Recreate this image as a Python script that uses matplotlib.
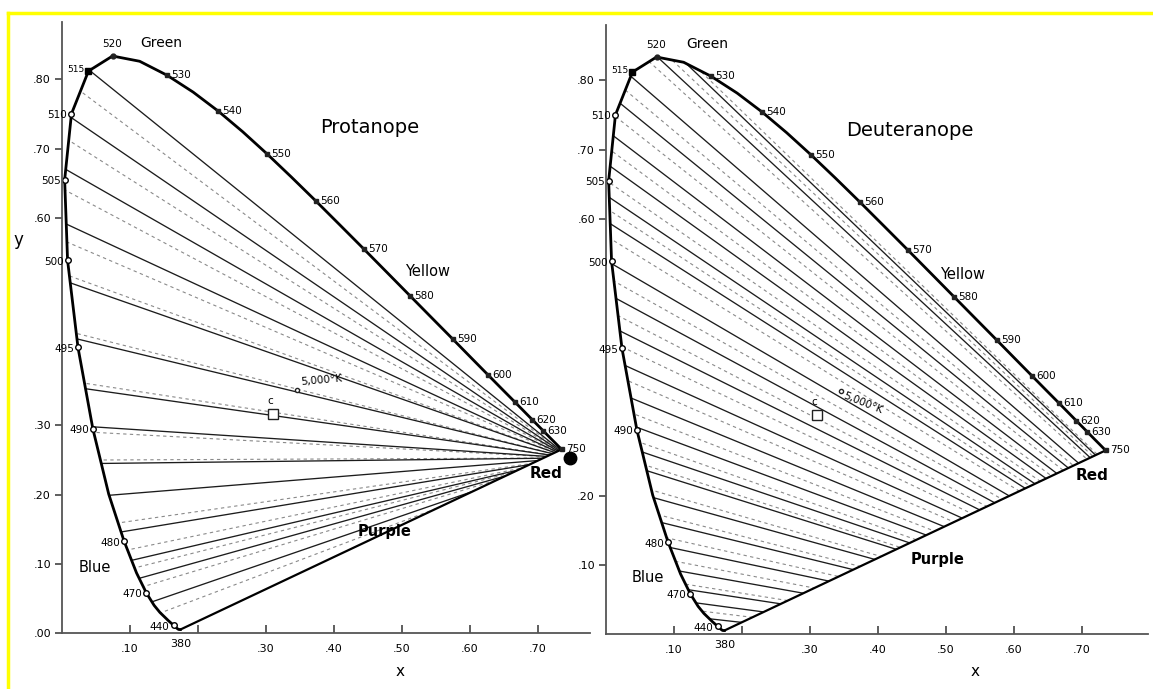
import numpy as np
import matplotlib.pyplot as plt
from matplotlib.patches import Polygon
from matplotlib.lines import Line2D

# CIE 1931 spectral locus (wavelength nm, x, y)
locus_nm = [380, 420, 430, 440, 450, 460, 465, 470, 475, 480, 485, 490, 495, 500, 505,
            510, 515, 520, 525, 530, 535, 540, 545, 550, 555, 560, 565, 570, 575, 580,
            585, 590, 595, 600, 605, 610, 620, 630, 640, 650, 700]
locus_x = [0.1741, 0.1714, 0.1689, 0.1644, 0.1566, 0.1440, 0.1355, 0.1241, 0.1096, 0.0913,
           0.0687, 0.0454, 0.0235, 0.0082, 0.0039, 0.0139, 0.0389, 0.0743, 0.1142, 0.1547,
           0.1929, 0.2296, 0.2658, 0.3016, 0.3373, 0.3731, 0.4087, 0.4441, 0.4788, 0.5125,
           0.5448, 0.5752, 0.6029, 0.6270, 0.6482, 0.6658, 0.6915, 0.7079, 0.7190, 0.7260,
           0.7347]
locus_y = [0.0050, 0.0051, 0.0069, 0.0109, 0.0177, 0.0297, 0.0399, 0.0578, 0.0868, 0.1327,
           0.2007, 0.2950, 0.4127, 0.5384, 0.6548, 0.7502, 0.8120, 0.8338, 0.8262, 0.8059,
           0.7816, 0.7543, 0.7243, 0.6923, 0.6589, 0.6245, 0.5896, 0.5547, 0.5202, 0.4866,
           0.4544, 0.4242, 0.3965, 0.3725, 0.3514, 0.3340, 0.3083, 0.2920, 0.2809, 0.2740,
           0.2653]

# labelled wavelengths on the locus
left_marks = [510, 505, 500, 495, 490, 480, 470, 440]
right_marks = [530, 540, 550, 560, 570, 580, 590, 600, 610, 620, 630]

# copunctal points
prot_point = (0.747, 0.253)
deut_point = (1.08, -0.08)

# protanope confusion lines: y where each line meets the blue/green side of the locus
prot_solid_y = [0.813, 0.745, 0.670, 0.591, 0.506, 0.425, 0.353, 0.298, 0.245, 0.199,
                0.146, 0.105, 0.079, 0.045]
prot_dash_y = [0.783, 0.712, 0.640, 0.565, 0.516, 0.433, 0.361, 0.290, 0.250, 0.159,
               0.120, 0.094, 0.067, 0.029]

# deuteranope confusion lines
deut_solid_y = [0.806, 0.767, 0.720, 0.676, 0.631, 0.593, 0.535, 0.485, 0.438, 0.388,
                0.341, 0.299, 0.263, 0.236, 0.197, 0.161, 0.125, 0.091, 0.064, 0.045, 0.022]
deut_dash_y = [0.786, 0.748, 0.698, 0.653, 0.612, 0.571, 0.510, 0.460, 0.415, 0.366,
               0.318, 0.277, 0.244, 0.208, 0.172, 0.139, 0.105, 0.072, 0.033]
# deuteranope lines starting on the top (green) part of the locus: x of start
deut_solid_top_x = [0.076, 0.118]
deut_dash_top_x = [0.056, 0.097, 0.138]

illum_c = (0.3101, 0.3162)
k5000 = (0.3451, 0.3516)

plt.rcParams['font.family'] = 'DejaVu Sans'

fig = plt.figure(figsize=(11.53, 6.89), dpi=100)

lx = np.array(locus_x)
ly = np.array(locus_y)
i520 = locus_nm.index(520)
blue_x, blue_y = lx[:i520 + 1], ly[:i520 + 1]
top_x, top_y = lx[i520:], ly[i520:]


def add_line(ax, clip, start, p, **kw):
    sx = start[0] - 0.05 * (p[0] - start[0])
    sy = start[1] - 0.05 * (p[1] - start[1])
    ln, = ax.plot([sx, p[0]], [sy, p[1]], **kw)
    ln.set_clip_path(clip)


def draw_panel(ax, p, solid_y, dash_y, solid_top, dash_top, xmax, ymax, yticks):
    ax.set_xlim(0, xmax)
    ax.set_ylim(0, ymax)
    for s in ['top', 'right']:
        ax.spines[s].set_visible(False)
    for s in ['left', 'bottom']:
        ax.spines[s].set_color('#555555')
        ax.spines[s].set_linewidth(1.3)

    clip = Polygon(np.column_stack([lx, ly]), closed=True, transform=ax.transData)

    solid_kw = dict(color='#1c1c1c', lw=0.95)
    dash_kw = dict(color='#8a8a8a', lw=0.8, dashes=(3, 3))
    for y0 in dash_y:
        add_line(ax, clip, (np.interp(y0, blue_y, blue_x), y0), p, **dash_kw)
    for x0 in dash_top:
        add_line(ax, clip, (x0, np.interp(x0, top_x, top_y)), p, **dash_kw)
    for y0 in solid_y:
        add_line(ax, clip, (np.interp(y0, blue_y, blue_x), y0), p, **solid_kw)
    for x0 in solid_top:
        add_line(ax, clip, (x0, np.interp(x0, top_x, top_y)), p, **solid_kw)

    # spectral locus and purple line
    ax.plot(lx, ly, color='black', lw=2.0, solid_joinstyle='round')
    ax.plot([lx[-1], lx[0]], [ly[-1], ly[0]], color='black', lw=1.6)

    # wavelength markers and labels
    for nm in left_marks:
        i = locus_nm.index(nm)
        ax.plot(lx[i], ly[i], 'o', ms=4, mfc='white', mec='black', mew=1.0)
        ax.annotate(str(nm), (lx[i], ly[i]), xytext=(-3, -1), textcoords='offset points',
                    ha='right', va='center', fontsize=7.5)
    for nm in right_marks:
        i = locus_nm.index(nm)
        ax.plot(lx[i], ly[i], 's', ms=3.5, color='#222222')
        ax.annotate(str(nm), (lx[i], ly[i]), xytext=(3, 0), textcoords='offset points',
                    ha='left', va='center', fontsize=7.5)
    i = locus_nm.index(515)
    ax.plot(lx[i], ly[i], 's', ms=4, color='black')
    ax.annotate('515', (lx[i], ly[i]), xytext=(-3, 1), textcoords='offset points',
                ha='right', va='center', fontsize=6.5)
    i = locus_nm.index(520)
    ax.plot(lx[i], ly[i], 'o', ms=3.5, color='#222222')
    ax.annotate('520', (lx[i], ly[i]), xytext=(0, 5), textcoords='offset points',
                ha='center', va='bottom', fontsize=7.5)
    ax.plot(lx[-1], ly[-1], 's', ms=3.5, color='#222222')
    ax.annotate('750', (lx[-1], ly[-1]), xytext=(3, 0), textcoords='offset points',
                ha='left', va='center', fontsize=7.5)
    ax.annotate('380', (lx[0], ly[0]), xytext=(0, -7), textcoords='offset points',
                ha='center', va='top', fontsize=8, annotation_clip=False)

    # illuminant C and 5000 K
    ax.plot(*illum_c, 's', ms=7, mfc='white', mec='#222222', mew=1.0)
    ax.annotate('c', illum_c, xytext=(-2, 6), textcoords='offset points',
                ha='center', va='bottom', fontsize=7.5)
    ax.plot(*k5000, 'o', ms=3, mfc='white', mec='#222222')

    xt = [0.1, 0.2, 0.3, 0.4, 0.5, 0.6, 0.7]
    ax.set_xticks(xt)
    ax.set_xticklabels(['.10', '', '.30', '.40', '.50', '.60', '.70'], fontsize=8)
    ax.set_yticks(yticks)
    ax.set_yticklabels(['.%02d' % round(v * 100) for v in yticks], fontsize=8)
    ax.tick_params(axis='x', direction='in', length=6, width=1.1, color='#333333', pad=8)
    ax.tick_params(axis='y', direction='out', length=5, width=1.1, color='#333333', pad=3)


ax1 = fig.add_axes([62 / 1153, 56 / 689, 528 / 1153, 611 / 689])
draw_panel(ax1, prot_point, prot_solid_y, prot_dash_y, [], [], 528 / 680, 611 / 692,
           [0.0, 0.1, 0.2, 0.3, 0.6, 0.7, 0.8])
ax1.plot(*prot_point, 'o', ms=9, color='black', clip_on=False)
ax1.text(0.453, 0.730, 'Protanope', fontsize=14, ha='center', va='center')
ax1.text(0.146, 0.852, 'Green', fontsize=10, ha='center', va='center')
ax1.text(0.538, 0.522, 'Yellow', fontsize=10.5, ha='center', va='center')
ax1.text(0.712, 0.231, 'Red', fontsize=11, ha='center', va='center', fontweight='bold')
ax1.text(0.475, 0.147, 'Purple', fontsize=10.5, ha='center', va='center', fontweight='bold')
ax1.text(0.048, 0.095, 'Blue', fontsize=10.5, ha='center', va='center')
ax1.text(k5000[0] + 0.005, k5000[1] + 0.004, '5,000°K', fontsize=7.5, ha='left', va='bottom',
         rotation=5)

ax2 = fig.add_axes([606 / 1153, 55 / 689, 542 / 1153, 609 / 689])
draw_panel(ax2, deut_point, deut_solid_y, deut_dash_y, deut_solid_top_x, deut_dash_top_x,
           542 / 680, 609 / 692, [0.1, 0.2, 0.6, 0.7, 0.8])
ax2.text(0.447, 0.728, 'Deuteranope', fontsize=14, ha='center', va='center')
ax2.text(0.149, 0.852, 'Green', fontsize=10, ha='center', va='center')
ax2.text(0.524, 0.519, 'Yellow', fontsize=10.5, ha='center', va='center')
ax2.text(0.715, 0.229, 'Red', fontsize=11, ha='center', va='center', fontweight='bold')
ax2.text(0.487, 0.107, 'Purple', fontsize=10.5, ha='center', va='center', fontweight='bold')
ax2.text(0.062, 0.081, 'Blue', fontsize=10.5, ha='center', va='center')
ax2.text(k5000[0] + 0.004, k5000[1] - 0.006, '5,000°K', fontsize=7.5, ha='left', va='center',
         rotation=-22, rotation_mode='anchor')

# axis letters
fig.text(18 / 1153, 1 - 240 / 689, 'y', fontsize=12, ha='center', va='center')
fig.text(400 / 1153, 1 - 672 / 689, 'x', fontsize=11, ha='center', va='center')
fig.text(975 / 1153, 1 - 672 / 689, 'x', fontsize=11, ha='center', va='center')

# yellow frame on top and left
fig.add_artist(Line2D([8 / 1153, 8 / 1153], [0, 1 - 13 / 689], color='#ffff00', lw=2.5,
                      transform=fig.transFigure))
fig.add_artist(Line2D([8 / 1153, 1], [1 - 13 / 689, 1 - 13 / 689], color='#ffff00', lw=2.5,
                      transform=fig.transFigure))

fig.savefig('out.png', dpi=100)
